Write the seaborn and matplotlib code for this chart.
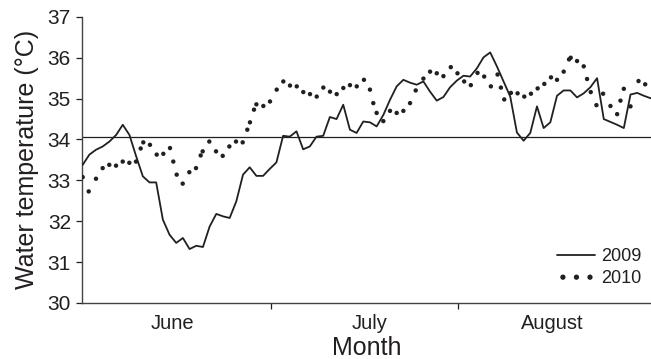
import numpy as np
import pandas as pd
import matplotlib
matplotlib.use("Agg")
import matplotlib.pyplot as plt
from matplotlib.lines import Line2D
import seaborn as sns

# ---- data ----
t2009 = [33.38, 33.63, 33.75, 33.83, 33.95, 34.11, 34.36, 34.11, 33.59, 33.10,
         32.95, 32.95, 32.04, 31.67, 31.47, 31.59, 31.32, 31.40, 31.37, 31.87,
         32.18, 32.12, 32.08, 32.49, 33.14, 33.32, 33.11, 33.11, 33.28, 33.44,
         34.09, 34.07, 34.20, 33.76, 33.83, 34.07, 34.09, 34.55, 34.50, 34.85,
         34.24, 34.16, 34.44, 34.42, 34.32, 34.60, 34.97, 35.30, 35.46, 35.39,
         35.34, 35.42, 35.17, 34.95, 35.04, 35.28, 35.44, 35.56, 35.54, 35.74,
         36.01, 36.13, 35.79, 35.42, 35.05, 34.17, 33.97, 34.16, 34.81, 34.28,
         34.42, 35.07, 35.20, 35.20, 35.03, 35.13, 35.28, 35.50, 34.50, 34.43,
         34.36, 34.28, 35.10, 35.14, 35.07, 35.01]
x2009 = list(range(len(t2009)))

x2010 = [0.0, 0.9, 1.99, 2.99, 3.98, 4.99, 5.99, 6.98, 7.98, 8.68,
         9.07, 10.07, 11.08, 12.07, 13.07, 13.56, 14.07, 14.97, 15.96, 16.96,
         17.66, 17.96, 18.95, 19.96, 20.96, 21.95, 22.95, 23.95, 24.64, 25.04,
         25.64, 26.0, 27.04, 28.04, 29.04, 30.03, 31.03, 32.04, 33.02, 34.03,
         35.03, 36.02, 37.02, 38.02, 39.01, 40.01, 41.02, 42.1, 43.0, 43.5,
         44.0, 45.0, 46.0, 47.0, 48.0, 49.0, 49.85, 51.0, 52.0, 53.0,
         54.0, 55.1, 56.1, 57.1, 58.1, 59.1, 60.1, 61.1, 62.1, 62.6,
         63.1, 64.1, 65.1, 66.1, 67.1, 68.1, 69.1, 70.1, 71.0, 72.0,
         72.8, 73.05, 74.0, 75.0, 75.5, 76.05, 76.9, 77.9, 79.0, 80.0,
         80.5, 81.0, 82.0, 83.2, 84.2]
t2010 = [33.08, 32.73, 33.04, 33.30, 33.38, 33.36, 33.46, 33.43, 33.46, 33.78,
         33.93, 33.87, 33.63, 33.65, 33.79, 33.46, 33.14, 32.92, 33.20, 33.30,
         33.61, 33.71, 33.95, 33.71, 33.60, 33.83, 33.95, 33.93, 34.24, 34.42,
         34.73, 34.86, 34.82, 34.93, 35.22, 35.42, 35.32, 35.30, 35.16, 35.11,
         35.05, 35.27, 35.17, 35.11, 35.26, 35.33, 35.30, 35.46, 35.22, 34.89,
         34.65, 34.45, 34.70, 34.65, 34.70, 34.89, 35.20, 35.49, 35.66, 35.62,
         35.55, 35.77, 35.62, 35.42, 35.33, 35.63, 35.54, 35.30, 35.59, 35.27,
         34.98, 35.14, 35.13, 35.05, 35.12, 35.25, 35.36, 35.52, 35.46, 35.66,
         35.96, 36.00, 35.92, 35.79, 35.48, 35.16, 34.84, 35.12, 34.82, 34.62,
         34.95, 35.24, 34.81, 35.43, 35.35]

months = ["June", "July", "August"]
month_label_pos = [13.5, 42.9, 70.3]
month_bounds = [28.26, 56.18]
threshold = 34.07
yticks = [30, 31, 32, 33, 34, 35, 36, 37]

df09 = pd.DataFrame({"x": x2009, "t": t2009})
df10 = pd.DataFrame({"x": x2010, "t": t2010})

# ---- style ----
sns.set_style("ticks")
plt.rcParams["font.family"] = ["Liberation Sans", "DejaVu Sans"]
ink = "#231f20"
plt.rcParams["text.color"] = ink
plt.rcParams["axes.labelcolor"] = ink
plt.rcParams["xtick.color"] = ink
plt.rcParams["ytick.color"] = ink

fig = plt.figure(figsize=(6.51, 3.59), dpi=100)
ax = fig.add_axes([0.126, 0.156, 0.874, 0.797])

ax.axhline(threshold, color=ink, lw=0.9, zorder=1)
sns.lineplot(data=df09, x="x", y="t", ax=ax, color=ink, lw=1.3, zorder=3,
             errorbar=None)
sns.scatterplot(data=df10, x="x", y="t", ax=ax, color=ink, s=10,
                edgecolor="none", zorder=4)
dots = ax.collections[-1]

ax.set_xlim(-0.1, 85.07)
ax.set_ylim(30, 37)
ax.set_yticks(yticks)
ax.set_yticklabels([str(v) for v in yticks])

ax.set_xticks(month_bounds)
ax.set_xticklabels(["", ""])
ax.set_xticks(month_label_pos, minor=True)
ax.set_xticklabels(months, minor=True)
ax.tick_params(axis="x", which="major", length=4, width=0.9, direction="out")
ax.tick_params(axis="x", which="minor", length=0, pad=8, labelsize=14.5)
ax.tick_params(axis="y", length=4, width=0.9, pad=4, labelsize=15)

ax.set_xlabel("Month", fontsize=18, labelpad=2)
ax.set_ylabel("Water temperature (°C)", fontsize=18, labelpad=6)

for s in ["top", "right"]:
    ax.spines[s].set_visible(False)
for s in ["left", "bottom"]:
    ax.spines[s].set_color("#444444")
    ax.spines[s].set_linewidth(1.0)

h1 = Line2D([], [], color=ink, lw=1.3)
ax.legend([h1, dots], ["2009", "2010"], loc="lower right",
          bbox_to_anchor=(1.005, 0.01), frameon=False, fontsize=13,
          handlelength=2.1, handletextpad=0.3, labelspacing=0.3,
          scatterpoints=3, scatteryoffsets=[0.5], borderpad=0.2,
          markerscale=1.2)

fig.savefig("out.png", dpi=100)
